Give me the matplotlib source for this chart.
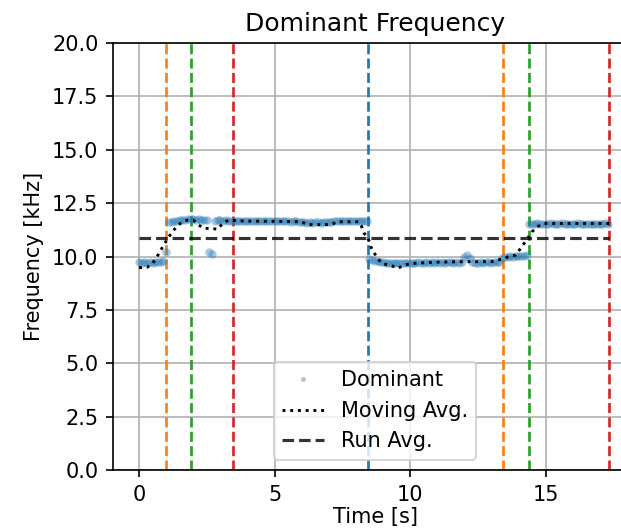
import numpy as np
import matplotlib
matplotlib.use("Agg")
import matplotlib.pyplot as plt

# dominant frequency [kHz], sampled every 0.1 s from t = 0
dom_f = [
    9.74, 9.71, 9.76, 9.72, 9.75, 9.70, 9.73, 9.76, 9.74, 9.80,
    10.22, 11.62, 11.64, 11.66, 11.67, 11.70, 11.72, 11.73, 11.75, 11.74,
    11.75, 11.73, 11.74, 11.72, 11.71, 11.69, 10.20, 10.14, 11.68, 11.70,
    11.69, 11.68, 11.70, 11.67, 11.68, 11.66, 11.67, 11.68, 11.66, 11.67,
    11.66, 11.68, 11.65, 11.67, 11.66, 11.67, 11.65, 11.66, 11.68, 11.66,
    11.67, 11.65, 11.66, 11.67, 11.65, 11.66, 11.64, 11.66, 11.65, 11.63,
    11.62, 11.60, 11.58, 11.61, 11.59, 11.62, 11.60, 11.57, 11.61, 11.63,
    11.60, 11.64, 11.66, 11.65, 11.67, 11.66, 11.65, 11.67, 11.66, 11.65,
    11.66, 11.65, 11.67, 11.66, 11.65, 9.90, 9.84, 9.80, 9.78, 9.76,
    9.74, 9.72, 9.70, 9.71, 9.69, 9.70, 9.72, 9.70, 9.71, 9.69,
    9.70, 9.72, 9.71, 9.73, 9.70, 9.72, 9.74, 9.71, 9.73, 9.72,
    9.74, 9.71, 9.73, 9.72, 9.74, 9.73, 9.71, 9.74, 9.72, 9.75,
    9.96, 10.08, 9.92, 9.74, 9.72, 9.71, 9.73, 9.72, 9.74, 9.73,
    9.72, 9.74, 9.73, 9.75, 9.95, 9.98, 10.00, 10.01, 10.00, 10.03,
    10.02, 10.04, 10.03, 10.05, 11.52, 11.54, 11.53, 11.55, 11.54, 11.53,
    11.54, 11.53, 11.55, 11.54, 11.53, 11.54, 11.55, 11.53, 11.54, 11.52,
    11.54, 11.53, 11.55, 11.54, 11.53, 11.54, 11.52, 11.54, 11.53, 11.54,
    11.54, 11.53, 11.55, 11.54,
]
dom_t = np.arange(len(dom_f)) * 0.1

ma_t = [0.0, 0.3, 0.5, 0.65, 0.8, 0.95, 1.1, 1.25, 1.4, 1.6, 1.8, 2.0, 2.2,
        2.4, 2.65, 2.9, 3.1, 3.3, 4.0, 5.0, 6.0, 6.2, 7.1, 7.3, 8.1, 8.2,
        8.3, 8.45, 8.55, 8.7, 8.85, 9.0, 9.25, 9.55, 9.8, 10.1, 11.0, 12.0,
        13.0, 13.45, 13.65, 13.9, 14.05, 14.25, 14.5, 14.7, 14.95, 16.0, 17.35]
ma_f = [9.48, 9.50, 9.68, 9.96, 10.30, 10.62, 10.93, 11.18, 11.43, 11.63,
        11.71, 11.71, 11.48, 11.32, 11.32, 11.28, 11.58, 11.70, 11.66, 11.65,
        11.63, 11.50, 11.50, 11.63, 11.63, 11.45, 11.10, 10.88, 10.46, 10.12,
        9.84, 9.65, 9.61, 9.45, 9.61, 9.68, 9.74, 9.76, 9.76, 9.90, 10.00,
        10.07, 10.33, 10.69, 11.16, 11.40, 11.55, 11.55, 11.55]

run_avg = 10.88
run_t = [0.0, 17.35]

# event markers (time, colour)
events_t = [1.0, 1.9, 3.47, 8.45, 13.44, 14.39, 17.35]
events_c = ["C1", "C2", "C3", "C0", "C1", "C2", "C3"]

fig = plt.figure(figsize=(621 / 150, 529 / 150), dpi=150)
ax = fig.add_axes([0.182, 0.1115, 0.844, 0.807])

for t, c in zip(events_t, events_c):
    ax.axvline(t, color=c, linestyle="--", linewidth=1.3)

ax.plot(dom_t, dom_f, ".", color="C0", alpha=0.4, markersize=8,
        markeredgewidth=0, label="Dominant")
ax.plot(ma_t, ma_f, "k:", linewidth=1.4, label="Moving Avg.")
ax.plot(run_t, [run_avg] * len(run_t), "--", color="k", alpha=0.8,
        label="Run Avg.")

ax.set_xlim(-0.96, 18.38)
ax.set_ylim(0, 20)
ax.set_xticks([0, 5, 10, 15])
ax.set_yticks(np.arange(0, 20.1, 2.5))
ax.grid(True)
ax.set_title("Dominant Frequency")
ax.set_xlabel("Time [s]", labelpad=1)
ax.set_ylabel("Frequency [kHz]")
leg = ax.legend(loc="lower center", markerscale=0.6)

fig.savefig("out.png", dpi=150)
